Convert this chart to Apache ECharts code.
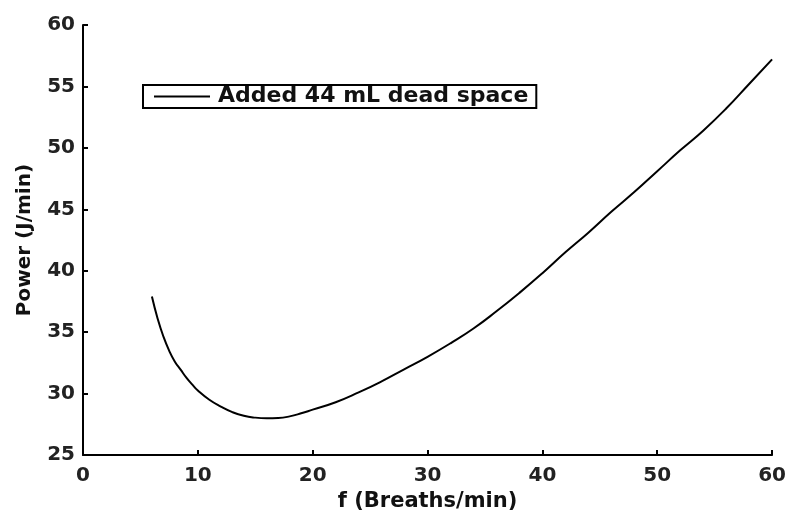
<!DOCTYPE html>
<html>
<head>
<meta charset="utf-8">
<script src="https://cdn.jsdelivr.net/npm/echarts@6/dist/echarts.min.js"></script>
<style>html,body{margin:0;padding:0;background:#fff}#c{width:789px;height:517px}</style>
</head>
<body>
<div id="c"></div>
<script>
var breaths = [6, 6.5, 7, 7.5, 8, 8.5, 9, 9.5, 10, 11, 12, 13, 14, 15, 16, 17, 18, 19, 20, 22, 24, 26, 28, 30, 32, 34, 36, 38, 40, 42, 44, 46, 48, 50, 52, 54, 56, 58, 60];
var power = [37.9, 36.1, 34.65, 33.5, 32.6, 31.95, 31.3, 30.75, 30.25, 29.5, 28.95, 28.5, 28.2, 28.05, 28.0, 28.02, 28.15, 28.4, 28.7, 29.3, 30.1, 31.0, 32.0, 33.0, 34.1, 35.3, 36.7, 38.2, 39.8, 41.5, 43.1, 44.8, 46.4, 48.1, 49.8, 51.4, 53.2, 55.2, 57.2];
var seriesName = 'Added 44 mL dead space';
var xTitle = 'f (Breaths/min)';
var yTitle = 'Power (J/min)';

var font = 'DejaVu Sans';
var chart = echarts.init(document.getElementById('c'));
var pts = breaths.map(function (x, i) { return [x, power[i]]; });
chart.setOption({
  animation: false,
  backgroundColor: '#fff',
  grid: { left: 83, right: 16, top: 25, bottom: 55 },
  legend: {
    left: 143, top: 85,
    orient: 'horizontal',
    padding: [0, 8, 0, 11],
    borderColor: '#000', borderWidth: 2,
    itemWidth: 56, itemHeight: 14,
    icon: 'path://M0,6L56,6L56,8L0,8Z',
    itemStyle: { color: '#000' },
    textStyle: { fontFamily: font, fontWeight: 'bold', fontSize: 22, color: '#111', lineHeight: 23, padding: [0, 0, 0, 3] },
    data: [seriesName]
  },
  xAxis: {
    type: 'value', min: 0, max: 60, interval: 10,
    name: xTitle, nameLocation: 'middle', nameGap: 33,
    nameTextStyle: { fontFamily: font, fontWeight: 'bold', fontSize: 21, color: '#111' },
    axisLine: { show: true, onZero: false, lineStyle: { color: '#000', width: 2 } },
    axisTick: { show: true, inside: true, length: 5, lineStyle: { color: '#000', width: 2 } },
    axisLabel: { fontFamily: font, fontWeight: 'bold', fontSize: 20, color: '#222', margin: 11 },
    splitLine: { show: false }
  },
  yAxis: {
    type: 'value', min: 25, max: 60, interval: 5,
    name: yTitle, nameLocation: 'middle', nameGap: 48, nameRotate: 90,
    nameTextStyle: { fontFamily: font, fontWeight: 'bold', fontSize: 20, color: '#111' },
    axisLine: { show: true, onZero: false, lineStyle: { color: '#000', width: 2 } },
    axisTick: { show: true, inside: true, length: 5, lineStyle: { color: '#000', width: 2 } },
    axisLabel: { fontFamily: font, fontWeight: 'bold', fontSize: 20, color: '#222', margin: 8 },
    splitLine: { show: false }
  },
  series: [{
    name: seriesName,
    type: 'line',
    data: pts,
    smooth: 0.5,
    symbol: 'none',
    lineStyle: { color: '#000', width: 2 },
    itemStyle: { color: '#000' }
  }]
});
</script>
</body>
</html>
